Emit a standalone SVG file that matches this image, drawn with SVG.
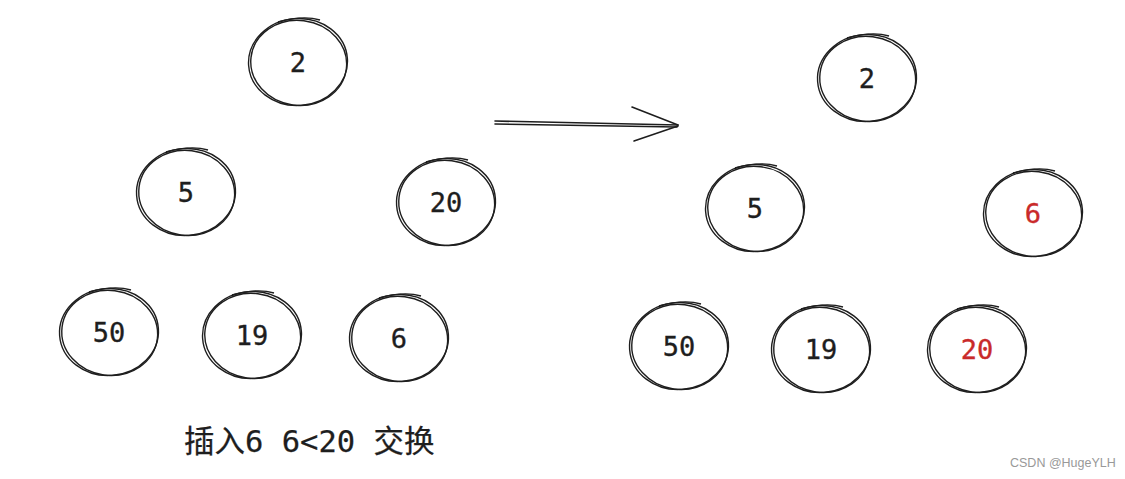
<svg xmlns="http://www.w3.org/2000/svg" width="1125" height="479" viewBox="0 0 1125 479">
<style>
.c{fill:none;stroke:#1e1e1e;stroke-width:1.4}
.r .c{stroke:#c92a2a}
.t{font-family:"DejaVu Sans Mono","Liberation Mono",monospace;font-size:27px;fill:#1e1e1e;stroke:#1e1e1e;stroke-width:0.35;text-anchor:middle;dominant-baseline:central}
.r .t{fill:#c92a2a;stroke:#c92a2a}
.lbl{font-family:"DejaVu Sans Mono","Noto Sans CJK SC",monospace;font-size:30.5px;fill:#1e1e1e;stroke:#1e1e1e;stroke-width:0.25}
.wm{font-family:"Liberation Sans",Arial,sans-serif;font-size:12.5px;fill:#999}
.a{fill:none;stroke:#1e1e1e;stroke-width:1.6;stroke-linecap:round}
</style>
<defs>
<g id="circ">
<ellipse class="c" cx="0" cy="0" rx="49.5" ry="43.5" transform="rotate(-4)"/>
<ellipse class="c" cx="0.8" cy="0.8" rx="48" ry="42.5" transform="rotate(7)"/>
<path class="c" d="M-20,-40 Q5,-47 22,-42"/>
</g>
</defs>
<g id="left-2"><use href="#circ" x="298" y="62"/><text class="t" x="298" y="62">2</text></g>
<g id="left-5"><use href="#circ" x="186" y="192"/><text class="t" x="186" y="192">5</text></g>
<g id="left-20"><use href="#circ" x="446" y="202"/><text class="t" x="446" y="202">20</text></g>
<g id="left-50"><use href="#circ" x="109" y="332"/><text class="t" x="109" y="332">50</text></g>
<g id="left-19"><use href="#circ" x="252" y="335"/><text class="t" x="252" y="335">19</text></g>
<g id="left-6"><use href="#circ" x="399" y="338"/><text class="t" x="399" y="338">6</text></g>
<g id="right-2"><use href="#circ" x="867" y="78"/><text class="t" x="867" y="78">2</text></g>
<g id="right-5"><use href="#circ" x="755" y="208"/><text class="t" x="755" y="208">5</text></g>
<g id="right-6" class="r"><use href="#circ" x="1033" y="213"/><text class="t" x="1033" y="213">6</text></g>
<g id="right-50"><use href="#circ" x="679" y="346"/><text class="t" x="679" y="346">50</text></g>
<g id="right-19"><use href="#circ" x="821" y="349"/><text class="t" x="821" y="349">19</text></g>
<g id="right-20" class="r"><use href="#circ" x="977" y="349"/><text class="t" x="977" y="349">20</text></g>
<g id="connectors">
<path class="a" d="M495,121 L678,125"/>
<path class="a" d="M495,124 L677,127"/>
<path class="a" d="M632,107 L678,125"/>
<path class="a" d="M634,141 L678,126"/>
</g>
<text class="lbl" x="184" y="452">插入6 6&lt;20 交换</text>
<text class="wm" x="1010" y="467">CSDN @HugeYLH</text>
</svg>
